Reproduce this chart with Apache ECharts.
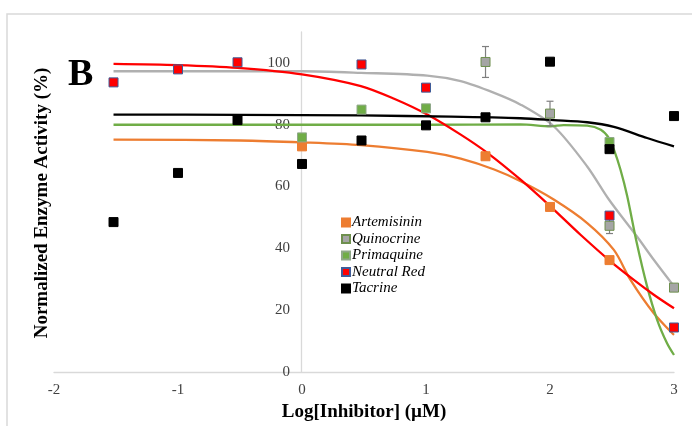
<!DOCTYPE html>
<html>
<head>
<meta charset="utf-8">
<script src="https://cdn.jsdelivr.net/npm/echarts@6/dist/echarts.min.js"></script>
<style>html,body{margin:0;padding:0;background:#fff;}#c{width:692px;height:426px;}</style>
</head>
<body>
<div id="c"></div>
<script>
// ---- data ----
const xLog = [-1.52, -1, -0.52, 0, 0.48, 1, 1.48, 2, 2.48, 3];
const xTicks = [-2, -1, 0, 1, 2, 3];
const yTicks = [0, 20, 40, 60, 80, 100];

const artemisinin = [null, null, null, 73.0, null, null, 69.8, 53.4, 36.2, null];
const quinocrine  = [null, null, null, null, null, null, 100.3, 83.6, 47.3, 27.3];
const quinocrineErr = [null, null, null, null, null, null, 5.0, 4.0, 2.5, 0.6];
const primaquine  = [null, null, null, 75.9, 84.9, 85.3, null, null, 74.4, null];
const neutralRed  = [93.7, 97.9, 100.2, null, 99.5, 92.0, null, null, 50.6, 14.4];
const tacrine     = [48.5, 64.4, 81.5, 67.3, 74.9, 79.8, 82.4, 100.4, 72.1, 82.8];

// fitted curves
const artFitX = [-1.52, -0.5, 0, 0.475, 1.01, 1.28, 1.55, 1.763, 2.03, 2.30, 2.515, 2.649, 2.837, 3];
const artFitY = [75.2, 74.9, 74.3, 73.4, 71.2, 69.0, 65.5, 61.7, 55.8, 48.2, 39.5, 29.8, 19.0, 12.0];
const quiFitX = [-1.52, -0.5, 0, 0.475, 1.01, 1.28, 1.55, 1.763, 2.03, 2.30, 2.475, 2.70, 2.837, 3];
const quiFitY = [97.3, 97.3, 97.3, 96.8, 95.9, 94.1, 90.3, 86.5, 79.5, 66.5, 55.8, 43.9, 36.3, 27.7];
const priFitX = [-1.52, 0, 1.0, 1.763, 2.005, 2.11, 2.30, 2.41, 2.475, 2.515, 2.568, 2.622, 2.70, 2.783, 2.864, 2.944, 3];
const priFitY = [80.0, 80.0, 80.0, 80.1, 79.5, 79.9, 79.7, 78.4, 75.7, 72.0, 65.5, 57.0, 41.7, 27.7, 16.9, 9.3, 5.5];
const redFitX = [-1.52, -1, -0.52, 0, 0.475, 0.743, 1.01, 1.28, 1.495, 1.763, 2.005, 2.246, 2.488, 2.676, 2.837, 3];
const redFitY = [99.7, 99.3, 98.4, 96.3, 92.5, 88.4, 83.3, 76.8, 70.9, 62.2, 53.5, 44.4, 35.8, 29.8, 25.0, 20.6];
const tacFitX = [-1.52, -0.5, 0.475, 1.2, 1.763, 2.03, 2.30, 2.515, 2.783, 3];
const tacFitY = [83.3, 83.2, 83.0, 82.6, 82.1, 81.5, 80.8, 79.3, 75.7, 73.0];

const seriesNames = ['Artemisinin', 'Quinocrine', 'Primaquine', 'Neutral Red', 'Tacrine'];

// ---- build ----
function pts(xs, ys) { const out = []; for (let i = 0; i < xs.length; i++) if (ys[i] != null) out.push([xs[i], ys[i]]); return out; }

const SERIF = '"Liberation Serif", "Times New Roman", serif';
const chart = echarts.init(document.getElementById('c'), null, { renderer: 'canvas' });

const markerDefs = [
  { name: seriesNames[0], data: artemisinin, fill: '#ED7D31', border: '#ED7D31' },
  { name: seriesNames[1], data: quinocrine, fill: '#A5A5A5', border: '#6E8F4E' },
  { name: seriesNames[2], data: primaquine, fill: '#70AD47', border: '#8FA889' },
  { name: seriesNames[3], data: neutralRed, fill: '#FF0000', border: '#3E5C99' },
  { name: seriesNames[4], data: tacrine, fill: '#000000', border: '#000000' }
];
const fitDefs = [
  { x: artFitX, y: artFitY, color: '#ED7D31' },
  { x: quiFitX, y: quiFitY, color: '#B0B0B0' },
  { x: priFitX, y: priFitY, color: '#70AD47' },
  { x: redFitX, y: redFitY, color: '#FF0000' },
  { x: tacFitX, y: tacFitY, color: '#000000' }
];

const series = [];
fitDefs.forEach(f => series.push({
  type: 'line', data: pts(f.x, f.y), smooth: 0.3, showSymbol: false, symbol: 'none',
  lineStyle: { color: f.color, width: 2.3 }, z: 2, silent: true
}));
const errData = [];
for (let i = 0; i < xLog.length; i++) if (quinocrine[i] != null && quinocrineErr[i] != null) errData.push([xLog[i], quinocrine[i], quinocrineErr[i]]);
series.push({
  type: 'custom', z: 3, silent: true, data: errData,
  renderItem: function (params, api) {
    const x = api.value(0), y = api.value(1), e = api.value(2);
    const top = api.coord([x, y + e]), bot = api.coord([x, y - e]);
    const st = { stroke: '#7F7F7F', lineWidth: 1.2 };
    return { type: 'group', children: [
      { type: 'line', shape: { x1: top[0], y1: top[1], x2: bot[0], y2: bot[1] }, style: st },
      { type: 'line', shape: { x1: top[0] - 3.5, y1: top[1], x2: top[0] + 3.5, y2: top[1] }, style: st },
      { type: 'line', shape: { x1: bot[0] - 3.5, y1: bot[1], x2: bot[0] + 3.5, y2: bot[1] }, style: st }
    ]};
  }
});
markerDefs.forEach(m => series.push({
  name: m.name, type: 'scatter', symbol: 'rect', symbolSize: 9, z: 4,
  data: pts(xLog, m.data),
  itemStyle: { color: m.fill, borderColor: m.border, borderWidth: 1, opacity: 1 }
}));

chart.setOption({
  animation: false,
  backgroundColor: '#ffffff',
  grid: { left: 54, right: 18, top: 32, bottom: 54, containLabel: false },
  xAxis: {
    type: 'value', min: xTicks[0], max: xTicks[xTicks.length - 1], interval: 1,
    axisLine: { lineStyle: { color: '#D9D9D9', width: 1.3 } },
    axisTick: { show: false }, splitLine: { show: false },
    axisLabel: { color: '#404040', fontFamily: SERIF, fontSize: 15, margin: 11 }
  },
  yAxis: {
    type: 'value', min: yTicks[0], max: 110, interval: 20, offset: -247,
    axisLine: { show: true, onZero: false, lineStyle: { color: '#D9D9D9', width: 1.3 } },
    axisTick: { show: false }, splitLine: { show: false },
    axisLabel: { color: '#404040', fontFamily: SERIF, fontSize: 15, margin: 11,
      formatter: v => (yTicks.indexOf(v) >= 0 ? String(v) : '') }
  },
  legend: {
    data: seriesNames, orient: 'vertical', left: 341, top: 215,
    itemWidth: 8, itemHeight: 8, itemGap: 1.5, padding: 0,
    textStyle: { fontFamily: SERIF, fontStyle: 'italic', fontSize: 15, color: '#000', padding: [0, 0, 0, -3] },
    selectedMode: false
  },
  graphic: [
    { type: 'rect', shape: { x: 7, y: 14, width: 720, height: 440 }, style: { fill: 'none', stroke: '#D9D9D9', lineWidth: 1.5 }, z: -1 },
    { type: 'text', left: 68, top: 56, style: { text: 'B', font: 'bold 38px ' + SERIF, fill: '#000' } },
    { type: 'text', x: 42, y: 203, rotation: Math.PI / 2, style: { text: 'Normalized Enzyme Activity (%)', font: 'bold 19px ' + SERIF, fill: '#000', align: 'center', verticalAlign: 'middle' } },
    { type: 'text', x: 364, y: 412, style: { text: 'Log[Inhibitor] (µM)', font: 'bold 19px ' + SERIF, fill: '#000', align: 'center', verticalAlign: 'middle' } }
  ],
  series: series
});
</script>
</body>
</html>
